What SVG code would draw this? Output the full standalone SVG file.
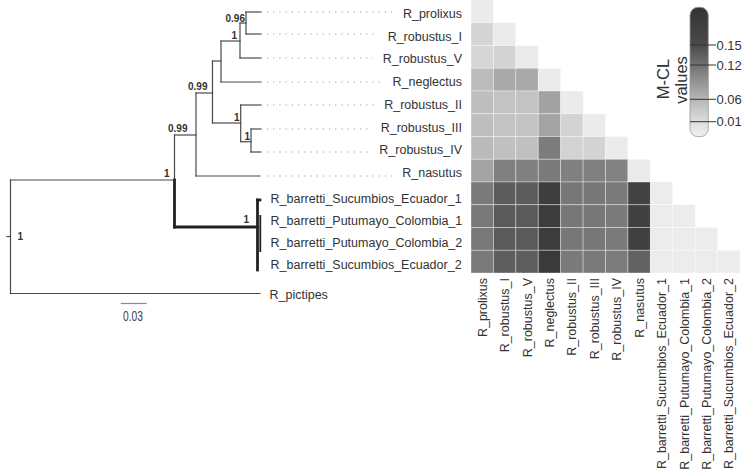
<svg xmlns="http://www.w3.org/2000/svg" width="750" height="475" viewBox="0 0 750 475">
<style>
.br{stroke:#4a4a4a;stroke-width:1.2;fill:none;stroke-linecap:square}
.th{stroke:#222;stroke-width:2.8;fill:none;stroke-linecap:square}
.dot{stroke:#9a9a9a;stroke-width:1;stroke-dasharray:1.2 5;fill:none}
.lab{font-family:"Liberation Sans",Arial,sans-serif;font-size:12.5px;fill:#333}
.bs{font-family:"Liberation Sans",Arial,sans-serif;font-size:10px;font-weight:bold;fill:#333}
.tk{font-family:"Liberation Sans",Arial,sans-serif;font-size:13px;fill:#333}
.ttl{font-family:"Liberation Sans",Arial,sans-serif;font-size:16.5px;fill:#333}
.cell rect{stroke:#ffffff;stroke-opacity:0.45;stroke-width:0.8}
</style>
<defs>
<linearGradient id="cb" x1="0" y1="0" x2="0" y2="1">
<stop offset="0" stop-color="#333"/>
<stop offset="0.29" stop-color="#4a4a4a"/>
<stop offset="0.45" stop-color="#727272"/>
<stop offset="0.71" stop-color="#b6b6b6"/>
<stop offset="0.88" stop-color="#dcdcdc"/>
<stop offset="1" stop-color="#f0f0f0"/>
</linearGradient>
</defs>
<rect width="750" height="475" fill="#fff"/>

<g id="connectors">
<line class="br" x1="7" y1="236.5" x2="10.5" y2="236.5"/>
<line class="br" x1="10.5" y1="180" x2="10.5" y2="293.5"/>
<line class="br" x1="10.5" y1="180" x2="174.5" y2="180"/>
<line class="br" x1="10.5" y1="293.5" x2="260" y2="293.5"/>
<line class="br" x1="174.5" y1="135" x2="174.5" y2="180"/>
<line class="br" x1="174.5" y1="135" x2="196" y2="135"/>
<line class="br" x1="196" y1="93" x2="196" y2="176"/>
<line class="br" x1="196" y1="176" x2="260" y2="176"/>
<line class="br" x1="196" y1="93" x2="212.5" y2="93"/>
<line class="br" x1="212.5" y1="61" x2="212.5" y2="123"/>
<line class="br" x1="212.5" y1="61" x2="221" y2="61"/>
<line class="br" x1="221" y1="41" x2="221" y2="82"/>
<line class="br" x1="221" y1="82" x2="261" y2="82"/>
<line class="br" x1="221" y1="41" x2="240" y2="41"/>
<line class="br" x1="240" y1="23" x2="240" y2="58"/>
<line class="br" x1="240" y1="58" x2="261" y2="58"/>
<line class="br" x1="240" y1="23" x2="246" y2="23"/>
<line class="br" x1="246" y1="12" x2="246" y2="34"/>
<line class="br" x1="246" y1="12" x2="261" y2="12"/>
<line class="br" x1="246" y1="34" x2="261" y2="34"/>
<line class="br" x1="212.5" y1="123" x2="240.7" y2="123"/>
<line class="br" x1="240.7" y1="105" x2="240.7" y2="141.7"/>
<line class="br" x1="240.7" y1="105" x2="261" y2="105"/>
<line class="br" x1="240.7" y1="141.7" x2="251" y2="141.7"/>
<line class="br" x1="251" y1="129" x2="251" y2="152"/>
<line class="br" x1="251" y1="129" x2="261" y2="129"/>
<line class="br" x1="251" y1="152" x2="261" y2="152"/>
<line class="th" x1="174.5" y1="180" x2="174.5" y2="227"/>
<line class="th" x1="174.5" y1="227" x2="257" y2="227"/>
<line class="th" x1="257.5" y1="200" x2="257.5" y2="270"/>
<line class="th" x1="257.5" y1="200" x2="260" y2="200"/>
<line stroke="#222" stroke-width="1.8" x1="260.3" y1="215" x2="260.3" y2="252"/>
<line class="dot" x1="267" y1="12" x2="394" y2="12"/>
<line class="dot" x1="267" y1="34" x2="378" y2="34"/>
<line class="dot" x1="267" y1="58" x2="373" y2="58"/>
<line class="dot" x1="267" y1="82" x2="383" y2="82"/>
<line class="dot" x1="267" y1="105" x2="375" y2="105"/>
<line class="dot" x1="267" y1="129" x2="371" y2="129"/>
<line class="dot" x1="267" y1="152" x2="370" y2="152"/>
<line class="dot" x1="267" y1="176" x2="393" y2="176"/>
<line stroke="#8a8a8a" stroke-width="1.2" x1="120.7" y1="303.5" x2="146.7" y2="303.5"/>
</g>

<g id="support">
<text class="bs" x="245" y="22" text-anchor="end">0.96</text>
<text class="bs" x="237" y="38.5" text-anchor="end">1</text>
<text class="bs" x="207.5" y="90" text-anchor="end">0.99</text>
<text class="bs" x="239.5" y="120.5" text-anchor="end">1</text>
<text class="bs" x="250" y="140" text-anchor="end">1</text>
<text class="bs" x="187.5" y="132" text-anchor="end">0.99</text>
<text class="bs" x="169.5" y="177" text-anchor="end">1</text>
<text class="bs" x="249" y="222.5" text-anchor="end">1</text>
<text class="bs" x="17.5" y="240">1</text>
<text x="123" y="320.7" textLength="20" lengthAdjust="spacingAndGlyphs" style="font-family:'Liberation Sans',Arial,sans-serif;font-size:14px;fill:#444">0.03</text>
</g>

<g id="leaves">
<text id="n-prolixus" class="lab" x="462" y="18.3" text-anchor="end">R_prolixus</text>
<text id="n-robustus_I" class="lab" x="462" y="40.5" text-anchor="end">R_robustus_I</text>
<text id="n-robustus_V" class="lab" x="462" y="63.3" text-anchor="end">R_robustus_V</text>
<text id="n-neglectus" class="lab" x="462" y="86" text-anchor="end">R_neglectus</text>
<text id="n-robustus_II" class="lab" x="462" y="108.5" text-anchor="end">R_robustus_II</text>
<text id="n-robustus_III" class="lab" x="462" y="131.7" text-anchor="end">R_robustus_III</text>
<text id="n-robustus_IV" class="lab" x="462" y="154.3" text-anchor="end">R_robustus_IV</text>
<text id="n-nasutus" class="lab" x="462" y="177" text-anchor="end">R_nasutus</text>
<text id="n-bSE1" class="lab" x="270.5" y="202.5">R_barretti_Sucumbios_Ecuador_1</text>
<text id="n-bPC1" class="lab" x="270.5" y="225">R_barretti_Putumayo_Colombia_1</text>
<text id="n-bPC2" class="lab" x="270.5" y="247.3">R_barretti_Putumayo_Colombia_2</text>
<text id="n-bSE2" class="lab" x="270.5" y="268.5">R_barretti_Sucumbios_Ecuador_2</text>
<text id="n-pictipes" class="lab" x="269.5" y="299">R_pictipes</text>
</g>

<g id="heatmap" class="cell">
<!-- row 0 -->
<rect x="471" y="0" width="22.42" height="22.75" fill="#ebebeb"/>
<!-- row 1 -->
<rect x="471" y="22.75" width="22.42" height="22.75" fill="#d5d5d5"/>
<rect x="493.42" y="22.75" width="22.42" height="22.75" fill="#ebebeb"/>
<!-- row 2 -->
<rect x="471" y="45.5" width="22.42" height="22.75" fill="#d6d6d6"/>
<rect x="493.42" y="45.5" width="22.42" height="22.75" fill="#d3d3d3"/>
<rect x="515.84" y="45.5" width="22.42" height="22.75" fill="#ebebeb"/>
<!-- row 3 -->
<rect x="471" y="68.25" width="22.42" height="22.75" fill="#bcbcbc"/>
<rect x="493.42" y="68.25" width="22.42" height="22.75" fill="#a9a9a9"/>
<rect x="515.84" y="68.25" width="22.42" height="22.75" fill="#a9a9a9"/>
<rect x="538.26" y="68.25" width="22.42" height="22.75" fill="#ebebeb"/>
<!-- row 4 -->
<rect x="471" y="91" width="22.42" height="22.75" fill="#bebebe"/>
<rect x="493.42" y="91" width="22.42" height="22.75" fill="#c3c3c3"/>
<rect x="515.84" y="91" width="22.42" height="22.75" fill="#c3c3c3"/>
<rect x="538.26" y="91" width="22.42" height="22.75" fill="#a2a2a2"/>
<rect x="560.68" y="91" width="22.42" height="22.75" fill="#ebebeb"/>
<!-- row 5 -->
<rect x="471" y="113.75" width="22.42" height="22.75" fill="#bebebe"/>
<rect x="493.42" y="113.75" width="22.42" height="22.75" fill="#c3c3c3"/>
<rect x="515.84" y="113.75" width="22.42" height="22.75" fill="#c3c3c3"/>
<rect x="538.26" y="113.75" width="22.42" height="22.75" fill="#a4a4a4"/>
<rect x="560.68" y="113.75" width="22.42" height="22.75" fill="#d3d3d3"/>
<rect x="583.1" y="113.75" width="22.42" height="22.75" fill="#ebebeb"/>
<!-- row 6 -->
<rect x="471" y="136.5" width="22.42" height="22.75" fill="#bababa"/>
<rect x="493.42" y="136.5" width="22.42" height="22.75" fill="#c0c0c0"/>
<rect x="515.84" y="136.5" width="22.42" height="22.75" fill="#c0c0c0"/>
<rect x="538.26" y="136.5" width="22.42" height="22.75" fill="#7c7c7c"/>
<rect x="560.68" y="136.5" width="22.42" height="22.75" fill="#d3d3d3"/>
<rect x="583.1" y="136.5" width="22.42" height="22.75" fill="#d3d3d3"/>
<rect x="605.52" y="136.5" width="22.42" height="22.75" fill="#ebebeb"/>
<!-- row 7 -->
<rect x="471" y="159.25" width="22.42" height="22.75" fill="#a3a3a3"/>
<rect x="493.42" y="159.25" width="22.42" height="22.75" fill="#808080"/>
<rect x="515.84" y="159.25" width="22.42" height="22.75" fill="#808080"/>
<rect x="538.26" y="159.25" width="22.42" height="22.75" fill="#7a7a7a"/>
<rect x="560.68" y="159.25" width="22.42" height="22.75" fill="#808080"/>
<rect x="583.1" y="159.25" width="22.42" height="22.75" fill="#808080"/>
<rect x="605.52" y="159.25" width="22.42" height="22.75" fill="#828282"/>
<rect x="627.94" y="159.25" width="22.42" height="22.75" fill="#ebebeb"/>
<!-- row 8 -->
<rect x="471" y="182" width="22.42" height="22.75" fill="#7a7a7a"/>
<rect x="493.42" y="182" width="22.42" height="22.75" fill="#5c5c5c"/>
<rect x="515.84" y="182" width="22.42" height="22.75" fill="#5c5c5c"/>
<rect x="538.26" y="182" width="22.42" height="22.75" fill="#3e3e3e"/>
<rect x="560.68" y="182" width="22.42" height="22.75" fill="#777"/>
<rect x="583.1" y="182" width="22.42" height="22.75" fill="#777"/>
<rect x="605.52" y="182" width="22.42" height="22.75" fill="#7a7a7a"/>
<rect x="627.94" y="182" width="22.42" height="22.75" fill="#424242"/>
<rect x="650.36" y="182" width="22.42" height="22.75" fill="#ececec"/>
<!-- row 9 -->
<rect x="471" y="204.75" width="22.42" height="22.75" fill="#787878"/>
<rect x="493.42" y="204.75" width="22.42" height="22.75" fill="#5a5a5a"/>
<rect x="515.84" y="204.75" width="22.42" height="22.75" fill="#5a5a5a"/>
<rect x="538.26" y="204.75" width="22.42" height="22.75" fill="#3c3c3c"/>
<rect x="560.68" y="204.75" width="22.42" height="22.75" fill="#777"/>
<rect x="583.1" y="204.75" width="22.42" height="22.75" fill="#777"/>
<rect x="605.52" y="204.75" width="22.42" height="22.75" fill="#7a7a7a"/>
<rect x="627.94" y="204.75" width="22.42" height="22.75" fill="#404040"/>
<rect x="650.36" y="204.75" width="22.42" height="22.75" fill="#ececec"/>
<rect x="672.78" y="204.75" width="22.42" height="22.75" fill="#ececec"/>
<!-- row 10 -->
<rect x="471" y="227.5" width="22.42" height="22.75" fill="#787878"/>
<rect x="493.42" y="227.5" width="22.42" height="22.75" fill="#5a5a5a"/>
<rect x="515.84" y="227.5" width="22.42" height="22.75" fill="#5a5a5a"/>
<rect x="538.26" y="227.5" width="22.42" height="22.75" fill="#3c3c3c"/>
<rect x="560.68" y="227.5" width="22.42" height="22.75" fill="#777"/>
<rect x="583.1" y="227.5" width="22.42" height="22.75" fill="#777"/>
<rect x="605.52" y="227.5" width="22.42" height="22.75" fill="#7a7a7a"/>
<rect x="627.94" y="227.5" width="22.42" height="22.75" fill="#404040"/>
<rect x="650.36" y="227.5" width="22.42" height="22.75" fill="#ececec"/>
<rect x="672.78" y="227.5" width="22.42" height="22.75" fill="#ececec"/>
<rect x="695.2" y="227.5" width="22.42" height="22.75" fill="#ececec"/>
<!-- row 11 -->
<rect x="471" y="250.25" width="22.42" height="22.75" fill="#7a7a7a"/>
<rect x="493.42" y="250.25" width="22.42" height="22.75" fill="#5e5e5e"/>
<rect x="515.84" y="250.25" width="22.42" height="22.75" fill="#5e5e5e"/>
<rect x="538.26" y="250.25" width="22.42" height="22.75" fill="#3a3a3a"/>
<rect x="560.68" y="250.25" width="22.42" height="22.75" fill="#7a7a7a"/>
<rect x="583.1" y="250.25" width="22.42" height="22.75" fill="#7a7a7a"/>
<rect x="605.52" y="250.25" width="22.42" height="22.75" fill="#7c7c7c"/>
<rect x="627.94" y="250.25" width="22.42" height="22.75" fill="#626262"/>
<rect x="650.36" y="250.25" width="22.42" height="22.75" fill="#ececec"/>
<rect x="672.78" y="250.25" width="22.42" height="22.75" fill="#ececec"/>
<rect x="695.2" y="250.25" width="22.42" height="22.75" fill="#ececec"/>
<rect x="717.62" y="250.25" width="22.42" height="22.75" fill="#ececec"/>
</g>

<g id="col-labels" class="lab" text-anchor="end">
<text transform="translate(486.7,278) rotate(-90)">R_prolixus</text>
<text transform="translate(509.1,278) rotate(-90)">R_robustus_I</text>
<text transform="translate(531.5,278) rotate(-90)">R_robustus_V</text>
<text transform="translate(554,278) rotate(-90)">R_neglectus</text>
<text transform="translate(576.4,278) rotate(-90)">R_robustus_II</text>
<text transform="translate(598.8,278) rotate(-90)">R_robustus_III</text>
<text transform="translate(621.2,278) rotate(-90)">R_robustus_IV</text>
<text transform="translate(643.6,278) rotate(-90)">R_nasutus</text>
<text transform="translate(666.1,278) rotate(-90)">R_barretti_Sucumbios_Ecuador_1</text>
<text transform="translate(688.5,278) rotate(-90)">R_barretti_Putumayo_Colombia_1</text>
<text transform="translate(710.9,278) rotate(-90)">R_barretti_Putumayo_Colombia_2</text>
<text transform="translate(733.3,278) rotate(-90)">R_barretti_Sucumbios_Ecuador_2</text>
</g>

<g id="legend">
<rect x="690" y="7.3" width="18.3" height="129.4" rx="8" ry="8" fill="url(#cb)" stroke="#999" stroke-width="0.8"/>
<g stroke="#333" stroke-width="1">
<line x1="690" y1="45" x2="716" y2="45"/>
<line x1="690" y1="65" x2="716" y2="65"/>
<line x1="690" y1="99.3" x2="716" y2="99.3"/>
<line x1="690" y1="121.7" x2="716" y2="121.7"/>
</g>
<text class="tk" x="716.5" y="49.7">0.15</text>
<text class="tk" x="716.5" y="69.7">0.12</text>
<text class="tk" x="716.5" y="104">0.06</text>
<text class="tk" x="716.5" y="126.4">0.01</text>
<text class="ttl" text-anchor="middle" transform="translate(669.3,79) rotate(-90)">M-CL</text>
<text class="ttl" text-anchor="middle" transform="translate(686.7,80) rotate(-90)">values</text>
</g>
</svg>
